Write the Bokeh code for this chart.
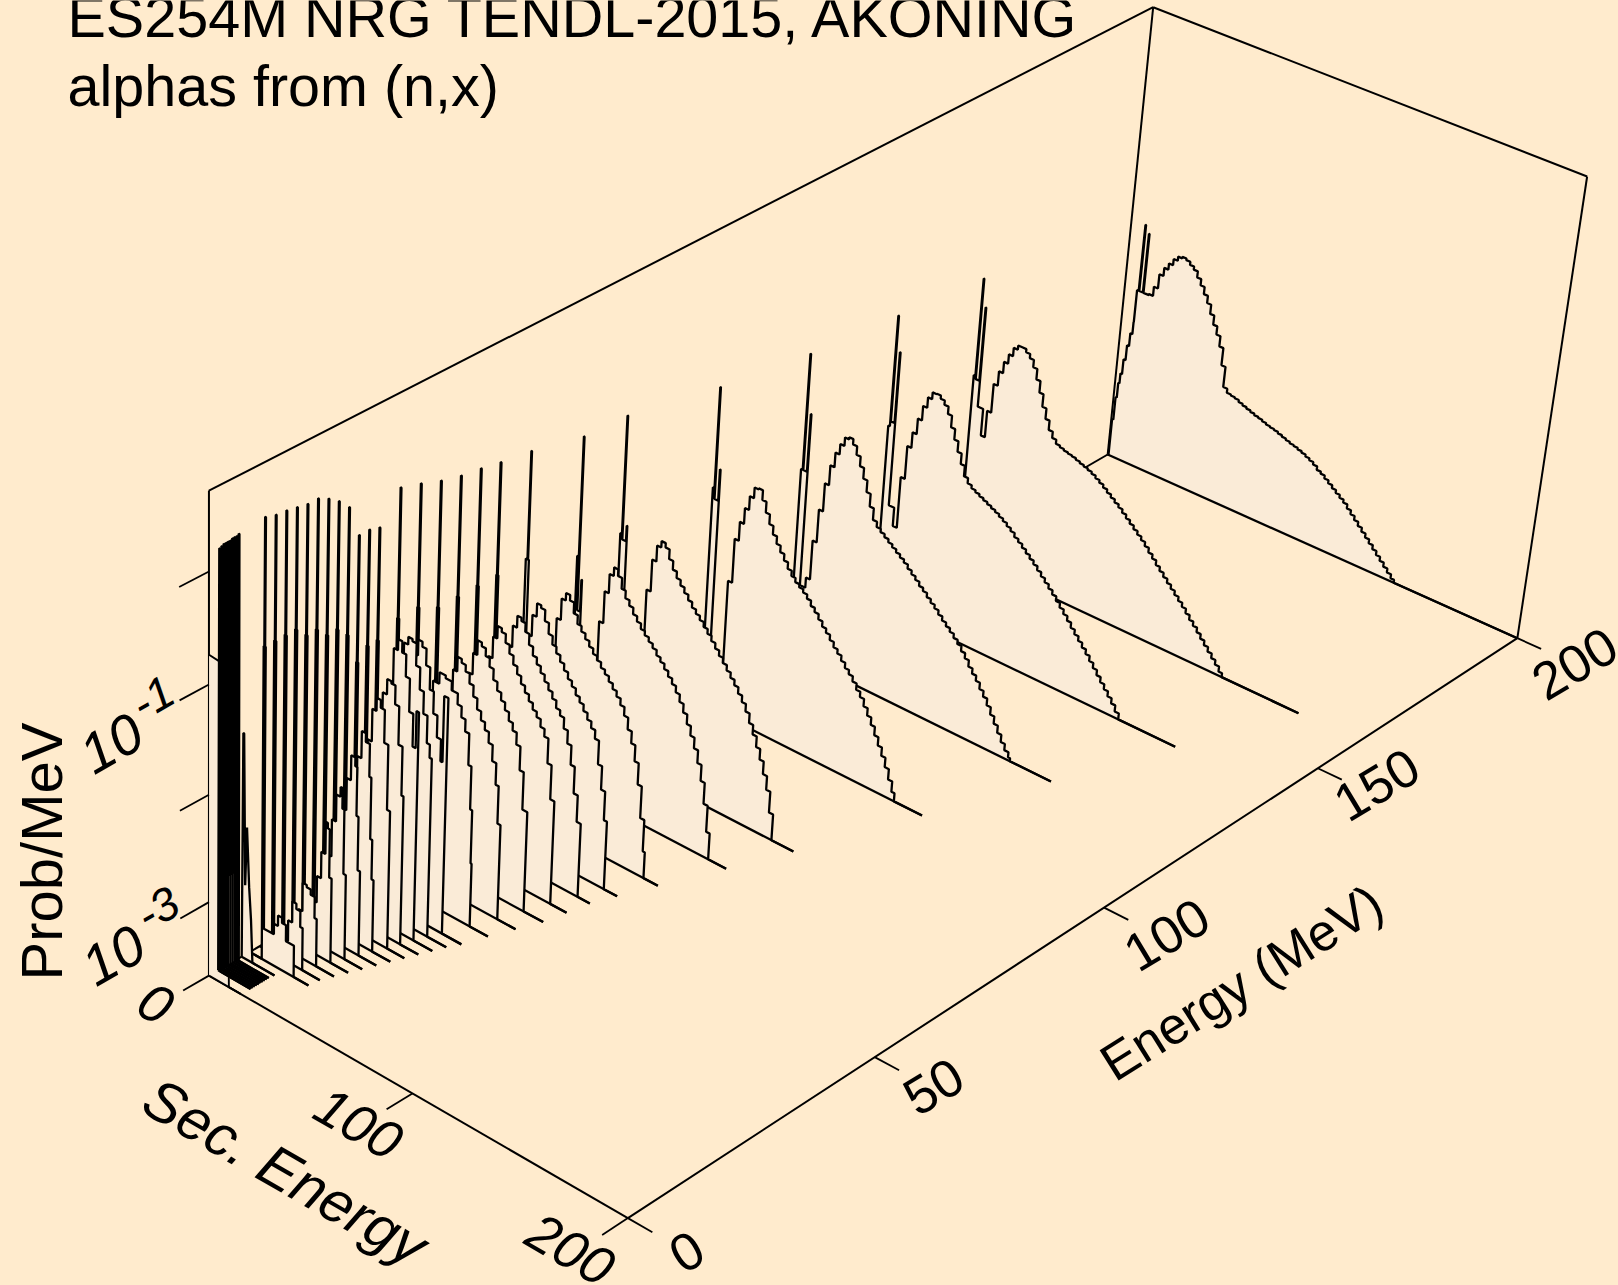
from bokeh.plotting import figure
from bokeh.embed import file_html
from bokeh.resources import INLINE
from bokeh.models import Range1d
from bokeh.core.properties import value

TITLE_1 = "ES254M NRG TENDL-2015, AKONING"
TITLE_2 = "alphas from (n,x)"
X_LABEL = "Sec. Energy"
Y_LABEL = "Energy (MeV)"
Z_LABEL = "Prob/MeV"
SEC_TICKS = [0, 100, 200]
ENERGY_TICKS = [0, 50, 100, 150, 200]
LOG_TICKS = [-3, -2, -1, 0]
FLOOR = -3.699
TOP = 0.699
F = FLOOR

# incident energy, sec. energy (MeV) and log10(prob/MeV)
S_200 = [0,.4,1,1.6,2.2,3,4,5,6,6.1,6.9,7.2,9,9.3] + list(range(12,142,2)) + [141.7,200]
L_200 = [F,-3.33,-3.1,-2.95,-2.85,-2.7,-2.55,-2.42,-2.3,-1.98,-1.33,-1.98,-1.40,-1.98,
 -1.97,-1.88,-1.74,-1.66,-1.60,-1.54,-1.50,-1.485,-1.50,-1.53,-1.56,-1.62,-1.68,-1.75,-1.82,-1.91,-2.0,-2.08,-2.18,-2.35,-2.55,-2.59,
 -2.60,-2.61,-2.63,-2.645,-2.66,-2.675,-2.69,-2.70,-2.715,-2.73,-2.74,-2.75,-2.765,-2.78,-2.795,-2.81,-2.82,-2.835,-2.85,-2.87,-2.89,-2.915,-2.95,-2.97,-3.0,-3.03,-3.06,-3.09,-3.12,-3.15,-3.19,-3.23,-3.27,-3.31,-3.35,-3.39,-3.43,-3.47,-3.51,-3.55,-3.59,-3.63,-3.67,F,F]
S_160 = [0,5.9,6.1,6.9,7.2,9,9.3] + list(range(12,136,2)) + [135.7,172]
L_160 = [F,-3.1,-1.92,-.98,-1.95,-1.24,-2.2,
 -2.46,-2.2,-1.92,-1.78,-1.67,-1.58,-1.50,-1.46,-1.46,-1.49,-1.53,-1.60,-1.70,-1.81,-1.93,-2.03,-2.12,-2.18,-2.22,-2.235,-2.25,-2.26,-2.27,-2.285,-2.30,-2.315,-2.33,-2.35,-2.375,-2.40,-2.43,-2.46,-2.49,-2.52,-2.55,-2.585,-2.62,-2.655,-2.69,-2.725,-2.76,-2.80,-2.845,-2.885,-2.93,-2.97,-3.01,-3.05,-3.09,-3.13,-3.17,-3.21,-3.255,-3.30,-3.34,-3.385,-3.43,-3.475,-3.52,-3.565,-3.61,-3.66,F,F]
S_140 = [0,5.9,6.1,6.9,7.2,9,9.3] + list(range(12,126,2)) + [126,153]
L_140 = [F,-3.2,-1.95,-.89,-1.9,-1.22,-2.7,
 -2.88,-2.38,-2.06,-1.91,-1.76,-1.62,-1.52,-1.455,-1.45,-1.48,-1.52,-1.59,-1.70,-1.80,-1.90,-2.0,-2.10,-2.15,-2.18,-2.20,-2.22,-2.24,-2.26,-2.28,-2.30,-2.325,-2.35,-2.38,-2.41,-2.45,-2.48,-2.515,-2.55,-2.585,-2.62,-2.66,-2.70,-2.74,-2.78,-2.82,-2.865,-2.91,-2.955,-3.0,-3.05,-3.095,-3.14,-3.185,-3.23,-3.28,-3.33,-3.38,-3.43,-3.48,-3.53,-3.58,-3.64,F,F]
S_120 = [0,5.9,6.1,6.9,7.2,9,9.3] + list(range(12,116,2)) + [115,134.6]
L_120 = [F,-3.3,-1.9,-.8,-1.9,-1.35,-3.0,
 -2.9,-2.52,-2.2,-1.93,-1.74,-1.6,-1.5,-1.42,-1.40,-1.45,-1.53,-1.62,-1.72,-1.83,-1.95,-2.06,-2.11,-2.14,-2.17,-2.20,-2.23,-2.26,-2.29,-2.32,-2.36,-2.395,-2.43,-2.47,-2.50,-2.54,-2.575,-2.61,-2.65,-2.69,-2.725,-2.76,-2.80,-2.84,-2.89,-2.94,-3.0,-3.05,-3.10,-3.16,-3.215,-3.28,-3.35,-3.42,-3.49,-3.56,-3.62,-3.67,F,F]
S_100 = [0,5.9,6.1,6.9,7.2,9,9.3] + list(range(12,102,2)) + [101.5,115]
L_100 = [F,-3.3,-1.6,-.655,-1.7,-1.405,-3.3,
 -3.6,-3.2,-2.4,-1.98,-1.8,-1.65,-1.52,-1.42,-1.41,-1.5,-1.6,-1.69,-1.77,-1.84,-1.9,-1.96,-2.02,-2.07,-2.11,-2.14,-2.17,-2.21,-2.26,-2.30,-2.35,-2.40,-2.44,-2.49,-2.54,-2.58,-2.63,-2.68,-2.72,-2.77,-2.83,-2.88,-2.95,-3.02,-3.09,-3.17,-3.25,-3.33,-3.42,-3.52,-3.62,F,F]
S_80 = [0,5.9,6.1,6.9,7.2,9,9.3] + list(range(14,86,2)) + [86,96.6]
L_80 = [F,-3.4,-1.55,-.455,-1.6,-1.455,-3.4,
 -3.6,-2.9,-2.35,-1.95,-1.65,-1.5,-1.44,-1.48,-1.57,-1.65,-1.71,-1.76,-1.81,-1.86,-1.91,-1.95,-1.99,-2.035,-2.08,-2.13,-2.18,-2.23,-2.28,-2.33,-2.38,-2.43,-2.49,-2.55,-2.62,-2.71,-2.8,-2.9,-3.0,-3.12,-3.25,-3.45,F,F]
S_70 = [0,7.9,8.1,8.9,9.2,10.6,10.9] + list(range(14,78,2)) + [77.7,86.4]
L_70 = [F,-3.4,-1.5,-.395,-2.0,-1.7,-3.4,
 F,-3.0,-2.4,-2.0,-1.7,-1.52,-1.44,-1.5,-1.6,-1.67,-1.72,-1.78,-1.83,-1.88,-1.92,-1.96,-2.0,-2.05,-2.09,-2.14,-2.19,-2.24,-2.3,-2.37,-2.45,-2.54,-2.63,-2.73,-2.85,-3.0,-3.2,-3.45,F,F]
S_60 = [0,5.9,6.1,6.9,7.2,7.6,12] + list(range(14,70,2)) + [69,76]
L_60 = [F,-3.5,-1.3,-.31,-1.3,-3.4,F,
 F,-3.1,-2.5,-2.05,-1.7,-1.5,-1.43,-1.48,-1.58,-1.66,-1.71,-1.76,-1.81,-1.86,-1.9,-1.95,-1.99,-2.04,-2.09,-2.14,-2.2,-2.28,-2.39,-2.5,-2.65,-2.85,-3.15,-3.45,F,F]
S_54 = [0,6,6.3,6.7,7,10,14,18,20,22,24,26,28,30,32,34,36,38,40,42,44,46,48,50,52,54,56,58,60,62,63.5,70]
L_54 = [F,-1.3,-.275,-1.3,F,F,F,-2.5,-2.0,-1.7,-1.5,-1.375,-1.4,-1.5,-1.6,-1.68,-1.74,-1.8,-1.86,-1.92,-1.97,-2.03,-2.08,-2.14,-2.2,-2.26,-2.34,-2.56,-2.78,-3.05,F,F]
S_50 = [0,6,6.3,6.7,7,10,14,18,20,22,24,26,28,30,32,34,36,38,40,42,44,46,48,50,52,54,56,58,60,66]
L_50 = [F,-1.3,-.235,-1.3,F,F,F,-2.5,-2.0,-1.7,-1.5,-1.39,-1.42,-1.5,-1.6,-1.68,-1.74,-1.8,-1.86,-1.92,-1.98,-2.05,-2.1,-2.2,-2.32,-2.5,-2.75,-3.0,F,F]
S_46 = [0,6,6.3,6.7,7,10,14,18,20,22,24,26,28,30,32,34,36,38,40,42,44,46,48,50,52,54,56,64]
L_46 = [F,-1.3,-.205,-1.3,F,F,F,-2.5,-2.0,-1.7,-1.5,-1.385,-1.42,-1.5,-1.58,-1.66,-1.73,-1.8,-1.86,-1.92,-1.98,-2.03,-2.1,-2.17,-2.4,-2.72,F,F]
S_42 = [0,6,6.3,6.7,7,10,14,18,20,22,24,26,28,30,32,34,36,38,40,42,44,46,48,50,52.4,62]
L_42 = [F,-1.3,-.155,-1.3,F,F,F,-2.6,-2.1,-1.75,-1.55,-1.415,-1.45,-1.52,-1.6,-1.7,-1.78,-1.85,-1.92,-2.0,-2.07,-2.18,-2.4,-2.75,F,F]
S_38 = [0,6,6.3,6.7,7,10,14,18,20,22,24,26,28,30,32,34,36,38,40,42,44,46,47.5,49,58]
L_38 = [F,-1.2,-.085,-1.2,F,F,F,-2.6,-2.1,-1.8,-1.6,-1.465,-1.5,-1.56,-1.65,-1.75,-1.85,-1.93,-2.0,-2.1,-2.25,-2.45,-2.8,F,F]
S_34 = [0,6,6.3,6.7,7,10,14,18,20,22,24,27,30,33,36,38,40,42,43.5,44.5,45,54]
L_34 = [F,-1.2,-.025,-1.2,F,F,F,-2.7,-2.2,-1.85,-1.6,-1.495,-1.52,-1.6,-1.7,-1.8,-1.91,-2.2,-2.6,-3.1,F,F]
S_30 = [0,6,6.3,6.7,7,10,14,18,20,22,24,26,28,30,32,34,36,38,39,40.2,41,50.6]
L_30 = [F,-1.3,-.285,-1.3,F,F,F,-2.6,-2.0,-1.6,-1.25,-1.105,-1.15,-1.3,-1.5,-1.7,-1.9,-2.1,-1.49,-1.49,F,F]
S_28 = [0,6,6.3,6.7,7,10,14,18,20,22,24,26,28,30,32,34,36,37.5,38.6,48]
L_28 = [F,-1.3,-.255,-1.3,F,F,F,-2.7,-2.0,-1.5,-1.1,-1.03,-1.05,-1.25,-1.45,-1.65,-1.9,-2.02,F,F]
S_26 = [0,6,6.3,6.7,7,10,14,18,20,22,24,26,28,30,32,34,35.5,36.7,46]
L_26 = [F,-1.4,-.255,-1.4,F,F,F,-2.7,-2.0,-1.5,-1.1,-1.0,-1.1,-1.3,-1.6,-1.9,-1.56,F,F]
S_24 = [0,6,6.3,6.7,7,10,14,18,20,22,24,26,28,30,32,34,35,44]
L_24 = [F,-1.1,.04,-1.1,F,F,F,-2.8,-2.2,-1.7,-1.45,-1.31,-1.33,-1.5,-1.85,-2.3,F,F]
S_22 = [0,6,6.3,6.7,7,10,14,18,20,22,24,26,28,30,32,33.5,42]
L_22 = [F,-1.0,.14,-1.0,F,F,F,-2.9,-2.3,-1.85,-1.55,-1.43,-1.5,-1.8,-2.4,F,F]
S_20 = [0,6,6.3,6.7,7,10,14,16,18,20,22,24,26,28,29,30,31,40]
L_20 = [F,-1.0,.21,-1.0,F,F,F,-3.3,-2.8,-2.3,-1.95,-1.70,-1.78,-2.08,-2.65,-3.02,F,F]
S_18 = [0,6,6.3,6.7,7,10,14,16,18,20,22,24,26,27,28,29.2,38]
L_18 = [F,-.9,.26,-.9,F,F,F,-3.3,-2.9,-2.4,-2.1,-1.87,-1.95,-2.4,-2.9,F,F]
S_16 = [0,6,6.3,6.7,7,10,14,16,18,20,22,24,25,26,27.2,36]
L_16 = [F,-.9,.26,-.9,F,F,-3.5,-3.2,-2.8,-2.45,-2.2,-2.11,-2.3,-2.9,F,F]
S_14 = [0,6,6.3,6.7,7,10,14,16,18,20,22,23,24,25.2,34]
L_14 = [F,-.8,.28,-.8,F,F,-3.6,-3.2,-2.95,-2.7,-2.4,-2.45,-2.9,F,F]
S_12 = [0,6,6.3,6.7,7,10,12,14,16,18,20,22,23.1,32]
L_12 = [F,-.8,.30,-.8,F,F,-3.5,-3.25,-2.98,-3.0,-3.05,-3.25,F,F]
S_10 = [0,6,6.3,6.7,7,10,12,14,16,18,20,21.2,30]
L_10 = [F,-.8,.31,-.8,F,F,-3.5,-3.3,-3.1,-3.15,-3.3,F,F]
S_8 = [0,6,6.3,6.7,7,10,12,14,16,18,22,29.4]
L_8 = [F,-.8,.34,-.8,-3.4,-3.4,-3.3,-3.2,-3.25,-3.4,F,F]
S_6 = [0,.4,.8,1.6,2.4,3.6,4.6,5.4,16.5]
L_6 = [F,-1.6,-1.6,-3.0,-2.45,-3.0,-3.3,F,F]
S_0 = [0,5.2,9,10,16]
L_0 = [-.735,-.745,-1.5,F,F]

STAIR = [(200,S_200,L_200),(160,S_160,L_160),(140,S_140,L_140),(120,S_120,L_120),(100,S_100,L_100),(80,S_80,L_80),(70,S_70,L_70),(60,S_60,L_60),
         (54,S_54,L_54),(50,S_50,L_50),(46,S_46,L_46),(42,S_42,L_42),(38,S_38,L_38),(34,S_34,L_34),(30,S_30,L_30),(28,S_28,L_28),(26,S_26,L_26),(24,S_24,L_24),(22,S_22,L_22),(20,S_20,L_20),(18,S_18,L_18),(16,S_16,L_16),(14,S_14,L_14),(12,S_12,L_12),(10,S_10,L_10),(8,S_8,L_8)]

# the tight group of low-energy spectra that prints as a black block
BLOCK_E = [5.4,5.0,4.6,4.2,3.8,3.4,3.0,2.6,2.2,1.8]
BLOCK_PEAK = [.20,.19,.19,.19,.18,.18,.18,.18,.17,.16]
BLOCK_START = [F,F,-2.86,-2.86,-2.86,F,F,F,F,F]
BLOCK_S = [.3,.7,1.1]
BLOCK_END = [16.2,16.2,16.2,16.2,16.2,16.3,16.3,16.3,16.3,16.3]

BG = "#FFEBCD"
FILL = "#FAEBD7"
INK = "#000000"
K = 1618 / 1568


def proj(E, S, L):
    u, v = E / 200.0, S / 200.0
    w = (L - FLOOR) / (TOP - FLOOR)
    den = 1 + .14392 * u - .05584 * v - .0551 * w
    return ((1025.4 * u + 372.05 * v - 11.13 * w + 202) / den * K,
            (-441.7 * u + 169.1 * v - 496.2 * w + 945) / den * K)


p = figure(width=1618, height=1285, x_range=Range1d(0, 1618), y_range=Range1d(1285, 0),
           toolbar_location=None, output_backend="svg", min_border=0,
           background_fill_color=BG, border_fill_color=BG, outline_line_color=None)
p.axis.visible = False
p.grid.visible = False


def seg(a, b, w=2.0):
    ax, ay = proj(*a)
    bx, by = proj(*b)
    p.line([ax, bx], [ay, by], line_color=INK, line_width=w, line_cap="butt")


# frame: back walls and floor
seg((0, 0, FLOOR), (200, 0, FLOOR))
seg((200, 0, FLOOR), (200, 0, TOP))
seg((0, 0, TOP), (200, 0, TOP))
seg((0, 0, FLOOR), (0, 0, TOP))
seg((200, 0, TOP), (200, 200, TOP))
seg((200, 200, TOP), (200, 200, FLOOR))
seg((0, 0, FLOOR), (0, 200, FLOOR))
seg((0, 200, FLOOR), (200, 200, FLOOR))


def draw(E, S, L, stair=False, lw=2.3):
    assert len(S) == len(L), E
    if stair:
        SS, LL = [S[0]], [L[0]]
        for i in range(1, len(S)):
            SS += [S[i], S[i]]
            LL += [L[i - 1], L[i]]
    else:
        SS, LL = list(S), list(L)
    pts = [proj(E, s, l) for s, l in zip(SS, LL)]
    xs = [a for a, _ in pts]
    ys = [b for _, b in pts]
    bx, by = proj(E, S[-1], FLOOR)
    cx, cy = proj(E, S[0], FLOOR)
    p.patch(xs + [bx, cx], ys + [by, cy], fill_color=FILL, line_color=None)
    p.line(xs, ys, line_color=INK, line_width=lw, line_join="bevel")
    p.line([cx, bx], [cy, by], line_color=INK, line_width=lw, line_join="bevel")


for E, S, L in STAIR:
    draw(E, S, L, True)
draw(6.4, S_6, L_6)
draw(0.02, S_0, L_0, False, 1.9)
for E, pk, st, end in zip(BLOCK_E, BLOCK_PEAK, BLOCK_START, BLOCK_END):
    draw(E, [0] + BLOCK_S + [end], [st, pk, pk, FLOOR, FLOOR])

# ticks
for s in SEC_TICKS:
    seg((0, s, FLOOR), (-5, s, FLOOR), 1.8)
for e in ENERGY_TICKS:
    seg((e, 200, FLOOR), (e, 211, FLOOR), 1.8)
for l in LOG_TICKS:
    seg((0, 0, l), (-5.5, 0, l), 1.8)

FONT = value("Liberation Sans")


def label(x, y, t, size, angle=0.0, style="normal", align="center", base="middle"):
    p.text([x], [y], text=[t], text_font=FONT, text_font_size=f"{size}px", text_font_style=style,
           angle=angle, angle_units="deg", text_align=align, text_baseline=base, text_color=INK)


label(67, 16, TITLE_1, 57.5, align="left", base="alphabetic")
label(67, 85, TITLE_2, 57.5, align="left", base="alphabetic")
for t, x, y in [("0", 155, 1003), ("100", 358, 1123), ("200", 570, 1249)]:
    label(x, y, t, 54, -30, "italic")
label(285, 1171, X_LABEL, 58, -30, "italic")
for t, x, y in [("0", 686, 1251), ("50", 933, 1086), ("100", 1166, 934), ("150", 1376, 784), ("200", 1574, 663)]:
    label(x, y, t, 53, 31)
label(1241, 982, Y_LABEL, 52, 32)
label(41, 851, Z_LABEL, 58, 90)
label(113, 955, "10", 56, 30, "italic")
label(157, 908, "-3", 46, 30, "italic")
label(111, 743, "10", 56, 30, "italic")
label(152, 697, "-1", 46, 30, "italic")

html = file_html(p, INLINE)
html = html.replace("<head>", "<head><style>html,body{margin:0;padding:0;overflow:hidden;background:#FFEBCD}</style>", 1)
open("out.html", "w").write(html)
